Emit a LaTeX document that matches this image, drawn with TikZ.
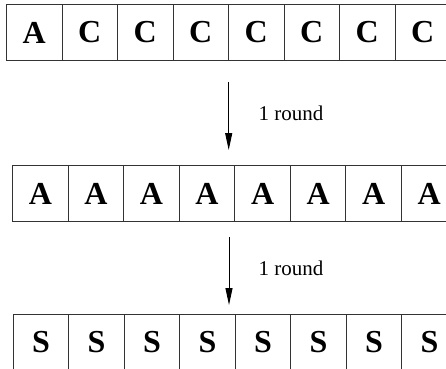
\documentclass[tikz,border=0pt]{standalone}
\usepackage{fontspec}
\setmainfont{Liberation Serif}
\usetikzlibrary{arrows.meta}

\begin{document}
\begin{tikzpicture}[x=1pt, y=-1pt,
  cell/.style={draw=black!80, line width=1pt, minimum width=55.5pt,
    minimum height=56pt, inner sep=0pt, anchor=north west,
    font=\fontsize{32}{32}\selectfont\bfseries},
  roundarrow/.style={line width=1pt, -{Triangle[length=17pt,width=7pt]}},
  roundlabel/.style={anchor=west, font=\fontsize{21}{21}\selectfont}]
  \useasboundingbox (0, 0) rectangle (446, 368);

  % start: one A, the rest C
  \foreach \i/\t in {0/A,1/C,2/C,3/C,4/C,5/C,6/C,7/C}
    \node[cell] (top\i) at ({6+55.5*\i}, 4) {\t};

  % after one round
  \foreach \i in {0,...,7}
    \node[cell] (mid\i) at ({12.3+55.5*\i}, 165) {A};

  % after two rounds
  \foreach \i in {0,...,7}
    \node[cell] (bot\i) at ({12.7+55.5*\i}, 314) {S};

  \coordinate (a1) at (228.7, 82);
  \coordinate (b1) at (228.7, 150);
  \coordinate (a2) at (229, 237);
  \coordinate (b2) at (229, 305);

  \draw[roundarrow] (a1) -- (b1);
  \node[roundlabel] (r1) at (255, 113) {1 round};
  \draw[roundarrow] (a2) -- (b2);
  \node[roundlabel] (r2) at (255, 268) {1 round};
\end{tikzpicture}
\end{document}
